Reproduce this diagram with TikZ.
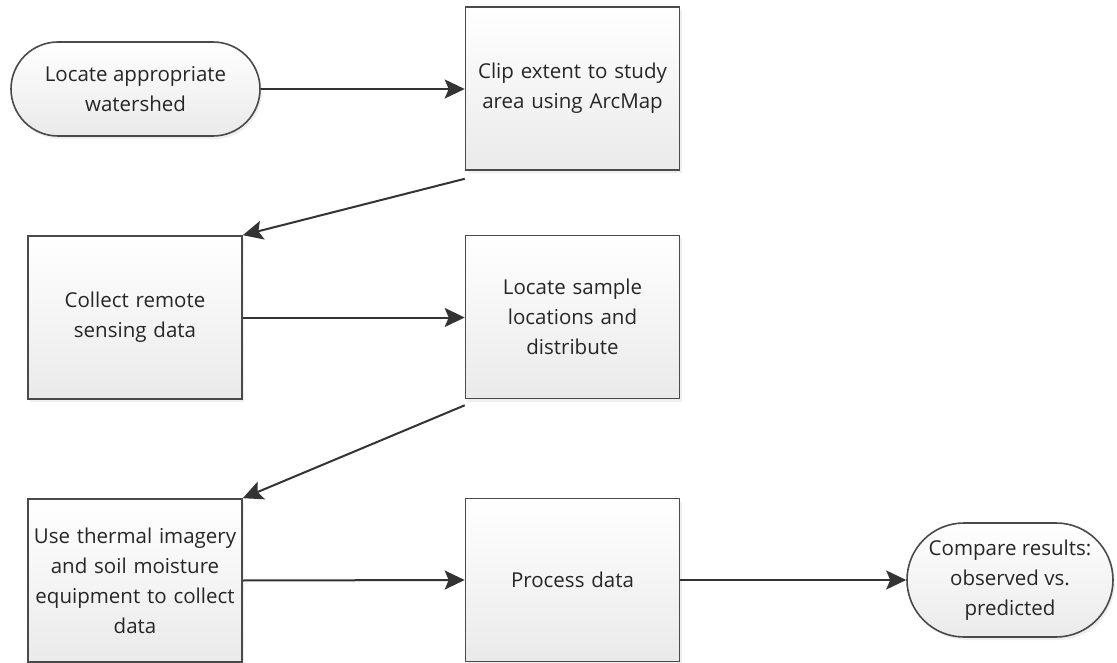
\documentclass[tikz,border=0pt]{standalone}
\usepackage{fontspec}
\setmainfont{Open Sans}
\usetikzlibrary{arrows.meta,shapes.misc,shadows}
\definecolor{edge}{HTML}{4A4A4A}
\definecolor{txt}{HTML}{262626}
\definecolor{fillbot}{HTML}{EAEAEA}
\tikzset{
  base/.style={draw=edge, line width=1.6pt, top color=white, bottom color=fillbot,
    text=txt, align=center, font=\fontsize{20.5}{30}\selectfont, inner sep=2pt,
    drop shadow={shadow xshift=2pt, shadow yshift=-3pt, fill=black!12}},
  procbox/.style={base, rectangle, minimum width=213pt, minimum height=163pt, text width=210pt},
  termbox/.style={base, rounded rectangle, minimum height=#1},
  conn/.style={draw=black!80, line width=2pt, -{Stealth[length=20pt,width=19pt,inset=4pt]}}
}
\begin{document}
\begin{tikzpicture}[x=1pt,y=-1pt]
\useasboundingbox (0,0) rectangle (1117,663);
\node[termbox=94pt, minimum width=253pt] (start) at (135.5,89) {Locate appropriate\\watershed};
\node[procbox] (clip) at (572.5,88.5) {Clip extent to study\\area using ArcMap};
\node[procbox] (collect) at (135,317.5) {Collect remote\\sensing data};
\node[procbox] (locate) at (572.5,317) {Locate sample\\locations and\\distribute};
\node[procbox] (thermal) at (135,580.5) {Use thermal imagery\\and soil moisture\\equipment to collect\\data};
\node[procbox] (process) at (572.5,580) {Process data};
\node[termbox=114pt, minimum width=210pt] (compare) at (1010,580) {Compare results:\\observed vs.\\predicted};
\coordinate (c1) at ([yshift=-8pt]clip.south west);
\coordinate (c2) at ([yshift=-6pt]locate.south west);
\draw[conn] (start.east) -- (clip.west |- start.east);
\draw[conn] (c1) -- (collect.north east);
\draw[conn] (collect.east) -- (locate.west |- collect.east);
\draw[conn] (c2) -- (thermal.north east);
\draw[conn] (thermal.east) -- (process.west);
\draw[conn] (process.east) -- (compare.west);
\end{tikzpicture}
\end{document}
